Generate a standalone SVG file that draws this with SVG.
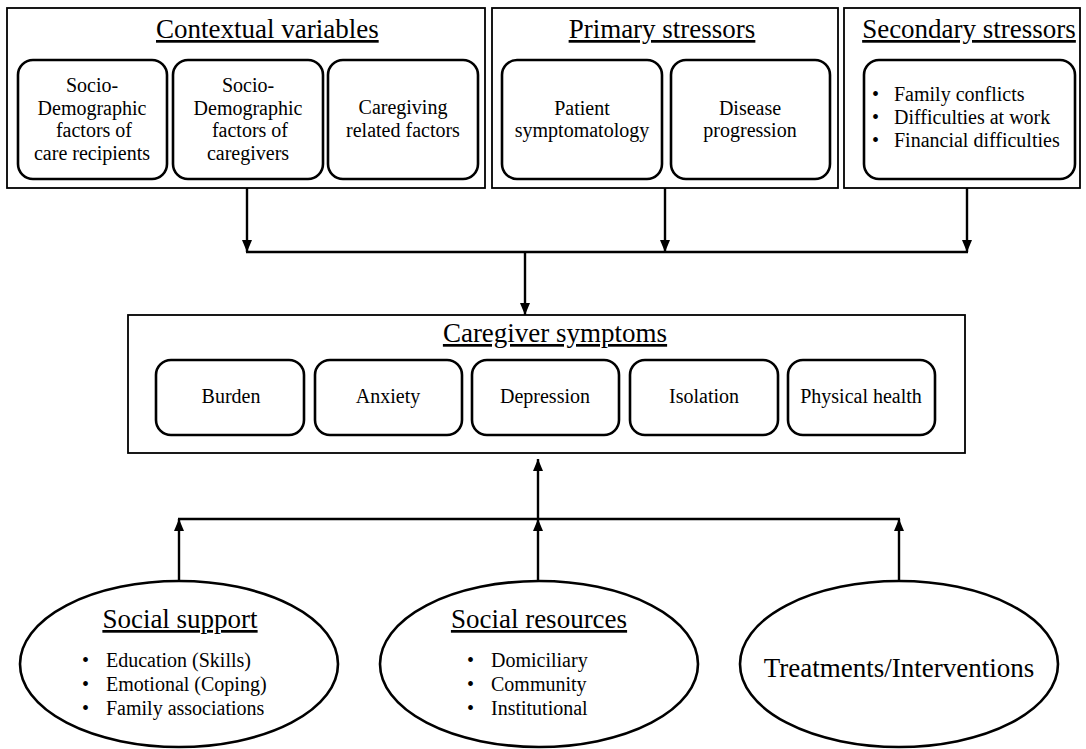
<svg xmlns="http://www.w3.org/2000/svg" width="1086" height="749" viewBox="0 0 1086 749">
<defs>
<style>
.outer{fill:#fff;stroke:#000;stroke-width:1.8;}
.inner{fill:#fff;stroke:#000;stroke-width:2.6;}
.ell{fill:#fff;stroke:#000;stroke-width:2.6;}
.conn{fill:none;stroke:#000;stroke-width:2.4;}
</style>
<marker id="arr" viewBox="0 0 12 10" refX="12" refY="5" markerWidth="12" markerHeight="10" markerUnits="userSpaceOnUse" orient="auto">
<path d="M0,0 L12,5 L0,10 z" fill="#000"/>
</marker>
</defs>
<rect width="1086" height="749" fill="#fff"/>

<g id="contextual">
<rect class="outer" x="7" y="8" width="478" height="180"/>
<text font-family="Liberation Serif, serif" font-size="27" text-decoration="underline" x="156" y="38">Contextual variables</text>
<g id="ctx1"><rect class="inner" x="18" y="60" width="149" height="119" rx="15"/>
<text font-family="Liberation Serif, serif" font-size="20" text-anchor="middle" x="92" y="92">Socio-</text>
<text font-family="Liberation Serif, serif" font-size="20" text-anchor="middle" x="92" y="115">Demographic</text>
<text font-family="Liberation Serif, serif" font-size="20" text-anchor="middle" x="94" y="137">factors of</text>
<text font-family="Liberation Serif, serif" font-size="20" text-anchor="middle" x="92" y="160">care recipients</text></g>
<g id="ctx2"><rect class="inner" x="173" y="60" width="150" height="119" rx="15"/>
<text font-family="Liberation Serif, serif" font-size="20" text-anchor="middle" x="248" y="92">Socio-</text>
<text font-family="Liberation Serif, serif" font-size="20" text-anchor="middle" x="248" y="115">Demographic</text>
<text font-family="Liberation Serif, serif" font-size="20" text-anchor="middle" x="250" y="137">factors of</text>
<text font-family="Liberation Serif, serif" font-size="20" text-anchor="middle" x="248" y="160">caregivers</text></g>
<g id="ctx3"><rect class="inner" x="328" y="60" width="150" height="119" rx="15"/>
<text font-family="Liberation Serif, serif" font-size="20" text-anchor="middle" x="403" y="114">Caregiving</text>
<text font-family="Liberation Serif, serif" font-size="20" text-anchor="middle" x="403" y="137">related factors</text></g>
</g>

<g id="primary">
<rect class="outer" x="492" y="8" width="346" height="180"/>
<text font-family="Liberation Serif, serif" font-size="27" text-decoration="underline" text-anchor="middle" x="662" y="38">Primary stressors</text>
<g id="pri1"><rect class="inner" x="502" y="60" width="160" height="119" rx="15"/>
<text font-family="Liberation Serif, serif" font-size="20" text-anchor="middle" x="582" y="115">Patient</text>
<text font-family="Liberation Serif, serif" font-size="20" text-anchor="middle" x="582" y="137">symptomatology</text></g>
<g id="pri2"><rect class="inner" x="671" y="60" width="159" height="119" rx="15"/>
<text font-family="Liberation Serif, serif" font-size="20" text-anchor="middle" x="750" y="115">Disease</text>
<text font-family="Liberation Serif, serif" font-size="20" text-anchor="middle" x="750" y="137">progression</text></g>
</g>

<g id="secondary">
<rect class="outer" x="844" y="8" width="236" height="180"/>
<text font-family="Liberation Serif, serif" font-size="27" text-decoration="underline" text-anchor="middle" x="969" y="38">Secondary stressors</text>
<g id="sec1"><rect class="inner" x="864" y="60" width="211" height="119" rx="15"/>
<text font-family="Liberation Serif, serif" font-size="20" x="872" y="101">•</text>
<text font-family="Liberation Serif, serif" font-size="20" x="894" y="101">Family conflicts</text>
<text font-family="Liberation Serif, serif" font-size="20" x="872" y="124">•</text>
<text font-family="Liberation Serif, serif" font-size="20" x="894" y="124">Difficulties at work</text>
<text font-family="Liberation Serif, serif" font-size="20" x="872" y="147">•</text>
<text font-family="Liberation Serif, serif" font-size="20" x="894" y="147">Financial difficulties</text></g>
</g>

<g id="connectors">
<line class="conn" x1="247" y1="188" x2="247" y2="252" marker-end="url(#arr)"/>
<line class="conn" x1="665" y1="188" x2="665" y2="252" marker-end="url(#arr)"/>
<line class="conn" x1="967" y1="188" x2="967" y2="252" marker-end="url(#arr)"/>
<line class="conn" x1="246" y1="252" x2="968" y2="252"/>
<line class="conn" x1="525" y1="252" x2="525" y2="315" marker-end="url(#arr)"/>
<line class="conn" x1="538" y1="519" x2="538" y2="459" marker-end="url(#arr)"/>
<line class="conn" x1="178" y1="519" x2="900" y2="519"/>
<line class="conn" x1="179" y1="582" x2="179" y2="519" marker-end="url(#arr)"/>
<line class="conn" x1="538" y1="582" x2="538" y2="519" marker-end="url(#arr)"/>
<line class="conn" x1="899" y1="582" x2="899" y2="519" marker-end="url(#arr)"/>
</g>

<g id="caregiver">
<rect class="outer" x="128" y="315" width="837" height="138"/>
<text font-family="Liberation Serif, serif" font-size="27" text-decoration="underline" text-anchor="middle" x="555" y="342">Caregiver symptoms</text>
<g id="cg1"><rect class="inner" x="156" y="360" width="148" height="75" rx="15"/>
<text font-family="Liberation Serif, serif" font-size="20" text-anchor="middle" x="231" y="403">Burden</text></g>
<g id="cg2"><rect class="inner" x="315" y="360" width="147" height="75" rx="15"/>
<text font-family="Liberation Serif, serif" font-size="20" text-anchor="middle" x="388" y="403">Anxiety</text></g>
<g id="cg3"><rect class="inner" x="472" y="360" width="147" height="75" rx="15"/>
<text font-family="Liberation Serif, serif" font-size="20" text-anchor="middle" x="545" y="403">Depression</text></g>
<g id="cg4"><rect class="inner" x="630" y="360" width="148" height="75" rx="15"/>
<text font-family="Liberation Serif, serif" font-size="20" text-anchor="middle" x="704" y="403">Isolation</text></g>
<g id="cg5"><rect class="inner" x="788" y="360" width="147" height="75" rx="15"/>
<text font-family="Liberation Serif, serif" font-size="20" text-anchor="middle" x="861" y="403">Physical health</text></g>
</g>

<g id="social-support">
<ellipse class="ell" cx="179" cy="664" rx="159" ry="83"/>
<text font-family="Liberation Serif, serif" font-size="27" text-decoration="underline" text-anchor="middle" x="180" y="628">Social support</text>
<text font-family="Liberation Serif, serif" font-size="20" x="82" y="667">•</text>
<text font-family="Liberation Serif, serif" font-size="20" x="106" y="667">Education (Skills)</text>
<text font-family="Liberation Serif, serif" font-size="20" x="82" y="691">•</text>
<text font-family="Liberation Serif, serif" font-size="20" x="106" y="691">Emotional (Coping)</text>
<text font-family="Liberation Serif, serif" font-size="20" x="82" y="715">•</text>
<text font-family="Liberation Serif, serif" font-size="20" x="106" y="715">Family associations</text>
</g>

<g id="social-resources">
<ellipse class="ell" cx="539" cy="664" rx="159" ry="83"/>
<text font-family="Liberation Serif, serif" font-size="27" text-decoration="underline" text-anchor="middle" x="539" y="628">Social resources</text>
<text font-family="Liberation Serif, serif" font-size="20" x="467" y="667">•</text>
<text font-family="Liberation Serif, serif" font-size="20" x="491" y="667">Domiciliary</text>
<text font-family="Liberation Serif, serif" font-size="20" x="467" y="691">•</text>
<text font-family="Liberation Serif, serif" font-size="20" x="491" y="691">Community</text>
<text font-family="Liberation Serif, serif" font-size="20" x="467" y="715">•</text>
<text font-family="Liberation Serif, serif" font-size="20" x="491" y="715">Institutional</text>
</g>

<g id="treatments">
<ellipse class="ell" cx="899" cy="664" rx="159" ry="83"/>
<text font-family="Liberation Serif, serif" font-size="27" text-anchor="middle" x="899" y="677">Treatments/Interventions</text>
</g>
</svg>
